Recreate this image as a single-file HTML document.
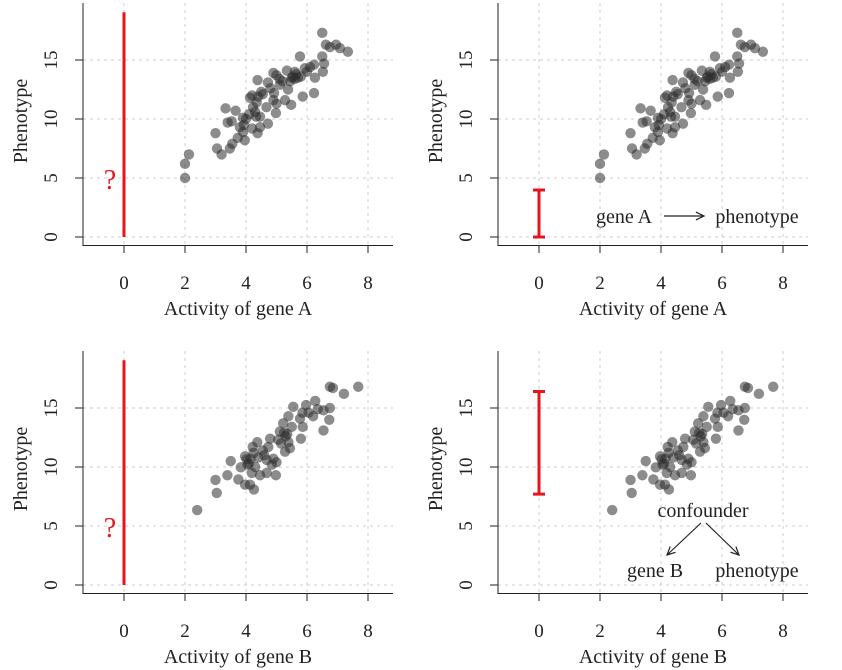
<!DOCTYPE html>
<html><head><meta charset="utf-8"><style>
body{margin:0;background:#fff}
svg{display:block;font-family:"Liberation Serif",serif}
</style></head><body>
<svg id="c" width="842" height="670"></svg>
<script>
const geneAx=[2.0,2.0,2.13,3.0,3.33,3.66,3.05,3.2,3.47,3.55,3.73,3.96,3.9,3.4,3.53,3.9,3.93,4.2,4.38,4.46,4.72,4.33,4.46,4.23,4.35,4.13,4.2,4.4,4.55,4.38,4.72,4.92,4.9,4.67,4.98,5.0,5.28,5.48,5.38,5.11,4.9,5.0,5.1,5.34,5.54,5.7,5.6,5.77,5.8,5.86,5.93,6.1,6.23,6.26,6.23,6.52,6.56,6.5,6.5,6.62,6.75,6.95,7.08,7.34,4.1,4.3,4.5,4.8,5.2,5.5,5.65,6.0,3.8,4.0,5.45,5.6];
const geneAy=[5.0,6.2,7.0,8.8,10.9,10.7,7.5,7.0,7.5,7.9,8.4,8.2,8.9,9.7,9.8,10.1,9.5,9.2,8.8,9.3,9.6,10.2,10.2,11.0,11.4,11.8,12.0,11.9,12.1,13.3,13.1,12.2,11.6,11.0,10.5,11.3,11.6,11.2,12.5,12.9,13.9,13.7,13.4,14.1,13.6,13.5,14.0,15.3,13.6,11.9,14.3,14.4,14.6,13.5,12.2,14.0,14.7,15.3,17.3,16.3,16.1,16.3,16.0,15.7,10.4,10.6,12.3,12.6,13.2,13.5,13.8,14.0,9.3,10.0,13.2,13.4];
const geneBx=[2.4,3.04,3.0,3.39,3.5,3.75,3.83,3.97,4.13,4.26,4.02,3.97,4.15,4.3,4.19,4.46,4.68,4.98,4.68,4.9,5.0,4.22,4.37,4.55,4.73,4.79,5.06,5.11,5.25,5.39,5.44,5.28,5.22,5.39,5.55,5.77,5.86,5.8,5.97,6.05,6.27,6.2,6.35,6.54,6.75,6.73,6.54,6.75,6.85,7.21,7.68,5.85,4.1,4.4,4.6,5.3,5.15,4.05,4.25,4.85,5.35,5.5];
const geneBy=[6.35,7.8,8.9,9.3,10.5,8.95,9.97,8.5,8.5,8.1,10.65,10.9,10.7,10.0,9.5,9.3,9.5,9.3,10.6,10.7,10.4,11.7,12.1,11.4,11.7,12.4,12.3,13.0,12.9,12.1,11.6,11.3,13.7,14.3,15.1,14.1,13.4,12.4,15.25,14.6,15.6,14.3,14.9,14.8,15.0,14.0,13.1,16.8,16.7,16.2,16.8,14.6,10.3,10.8,11.0,12.6,12.0,10.2,11.2,10.2,12.8,13.4];
const xTicks=[0,2,4,6,8], yTicks=[0,5,10,15];
const ns="http://www.w3.org/2000/svg", svg=document.getElementById('c');
function el(t,a,p){const e=document.createElementNS(ns,t);for(const k in a)e.setAttribute(k,a[k]);(p||svg).appendChild(e);return e;}
function panel(ox,oy,xs,ys,xlab,kind,id){
  const g=el('g',{});
  
  
  const X=v=>ox+124+v*30.5, Y=v=>oy+237-v*11.8;
  xTicks.forEach(t=>{const l=el('line',{x1:X(t),x2:X(t),y1:oy+3,y2:oy+245,stroke:'#ccc','stroke-dasharray':'3,4','stroke-width':1},g);});
  yTicks.forEach(t=>{const l=el('line',{x1:ox+83,x2:ox+393,y1:Y(t),y2:Y(t),stroke:'#ccc','stroke-dasharray':'3,4','stroke-width':1},g);});
  const ax=el('path',{d:`M${ox+83} ${oy+3}V${oy+245.5}H${ox+393}`,fill:'none',stroke:'#222','stroke-width':1},g);
  
  xTicks.forEach(t=>{el('line',{x1:X(t),x2:X(t),y1:oy+245,y2:oy+253,stroke:'#222'},g);
    const tx=el('text',{x:X(t),y:oy+289,'text-anchor':'middle','font-size':19,fill:'#222'},g);tx.textContent=t;
    });
  yTicks.forEach(t=>{el('line',{x1:ox+75,x2:ox+83,y1:Y(t),y2:Y(t),stroke:'#222'},g);
    const tx=el('text',{x:0,y:0,'text-anchor':'middle','font-size':19,fill:'#222',transform:`translate(${ox+57},${Y(t)}) rotate(-90)`},g);tx.textContent=t;
    });
  const xt=el('text',{x:ox+238,y:oy+315,'text-anchor':'middle','font-size':20,fill:'#222'},g);xt.textContent=xlab;
  
  const yt=el('text',{x:0,y:0,'text-anchor':'middle','font-size':20,fill:'#222',transform:`translate(${ox+27},${oy+121}) rotate(-90)`},g);yt.textContent='Phenotype';
  
  xs.forEach((v,i)=>{const c=el('circle',{cx:X(v),cy:Y(ys[i]),r:5.2,fill:'rgba(45,45,45,0.55)'},g);
    });
  if(kind[0]==='q'){
    const l=el('line',{x1:X(0),x2:X(0),y1:Y(0),y2:Y(19.05),stroke:'#e8141c','stroke-width':3},g);
    
    const q=el('text',{x:ox+110,y:oy+189,'text-anchor':'middle','font-size':28,fill:'#e8141c'},g);q.textContent='?';
    
  } else {
    const lo=kind[1],hi=kind[2];
    const e=el('path',{d:`M${X(0)} ${Y(lo)}V${Y(hi)}M${X(0)-6} ${Y(lo)}h12M${X(0)-6} ${Y(hi)}h12`,stroke:'#e8141c','stroke-width':3,fill:'none'},g);
    
  }
  return g;
}
panel(0,0,geneAx,geneAy,'Activity of gene A',['q'],'a-unknown');
panel(415,0,geneAx,geneAy,'Activity of gene A',['e',0,3.98],'a-causal');
panel(0,348,geneBx,geneBy,'Activity of gene B',['q'],'b-unknown');
panel(415,348,geneBx,geneBy,'Activity of gene B',['e',7.7,16.4],'b-confounded');
function txt(x,y,s,name){const t=el('text',{x:x,y:y,'text-anchor':'middle','font-size':20,fill:'#222'});t.textContent=s;
  }
function arrow(x1,y1,x2,y2,name){const a=Math.atan2(y2-y1,x2-x1),h=9;
  const p=el('path',{d:`M${x1} ${y1}L${x2} ${y2}M${x2-h*Math.cos(a-0.45)} ${y2-h*Math.sin(a-0.45)}L${x2} ${y2}L${x2-h*Math.cos(a+0.45)} ${y2-h*Math.sin(a+0.45)}`,stroke:'#222','stroke-width':1.2,fill:'none'});
  }
txt(624,223,'gene A','label-gene-a');
arrow(664,216,704,216,'causal-arrow');
txt(757,223,'phenotype','label-phenotype');
txt(703,517,'confounder','label-confounder');
arrow(701,523,667,555,'arrow-to-gene-b');
arrow(706,523,739,555,'arrow-to-phenotype');
txt(655,577,'gene B','label-gene-b');
txt(757,577,'phenotype','label-phenotype-b');
</script>
</body></html>
